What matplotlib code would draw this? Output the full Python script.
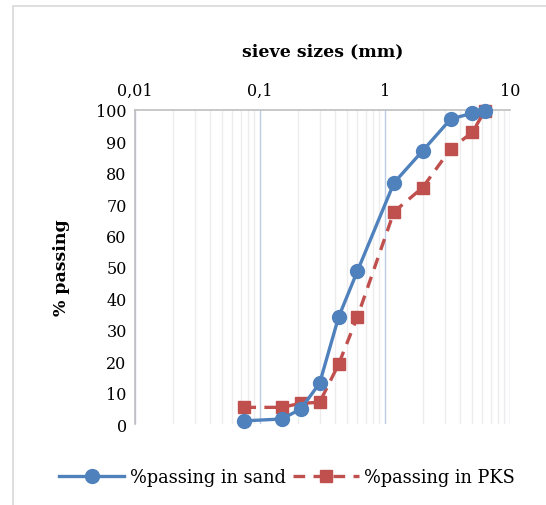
import matplotlib
matplotlib.use("Agg")
import matplotlib.pyplot as plt
from matplotlib.ticker import FixedLocator, FuncFormatter, LogLocator, NullFormatter
from matplotlib.patches import Rectangle

sieve_mm = [0.075, 0.15, 0.212, 0.3, 0.425, 0.6, 1.18, 2.0, 3.35, 5.0, 6.3]
sand = [1.0, 1.6, 4.8, 13.0, 34.0, 48.6, 76.8, 87.0, 97.1, 99.0, 99.8]
pks = [5.3, 5.3, 6.6, 6.9, 19.0, 34.0, 67.6, 75.3, 87.6, 92.9, 99.8]
x_ticks = [0.01, 0.1, 1, 10]
x_tick_labels = ["0,01", "0,1", "1", "10"]
y_ticks = list(range(0, 101, 10))

plt.rcParams['font.family'] = ['DejaVu Serif']

fig = plt.figure(figsize=(5.46, 5.06), dpi=100)
fig.patches.append(Rectangle((13/546, -0.05), 1.2, 1 - 7/506 + 0.05, transform=fig.transFigure,
                             fill=False, edgecolor='#d9d9d9', linewidth=1.2))
ax = fig.add_axes([135/546, 1 - 425/506, 375/546, 314/506])

ax.set_xscale('log')
ax.set_xlim(0.01, 10)
ax.set_ylim(0, 100)

ax.xaxis.set_major_locator(FixedLocator(x_ticks))
ax.xaxis.set_major_formatter(FuncFormatter(lambda v, p: x_tick_labels[x_ticks.index(v)] if v in x_ticks else ""))
ax.xaxis.set_minor_locator(LogLocator(base=10, subs=range(2, 10)))
ax.xaxis.set_minor_formatter(NullFormatter())
ax.set_yticks(y_ticks)

ax.xaxis.tick_top()
ax.xaxis.set_label_position('top')
ax.tick_params(axis='both', which='both', length=0, labelsize=11.5, pad=6)
ax.tick_params(axis='x', pad=8)

ax.grid(True, axis='x', which='major', color='#b9cde5', linewidth=1.0)
ax.grid(True, axis='x', which='minor', color='#ececec', linewidth=1.0)
ax.set_axisbelow(True)

for s in ['right', 'bottom']:
    ax.spines[s].set_visible(False)
for s in ['left', 'top']:
    ax.spines[s].set_color('#bfbfbf')
    ax.spines[s].set_linewidth(1.2)

ax.plot(sieve_mm, sand, color='#4f81bd', linewidth=2.4, marker='o', markersize=10,
        label='%passing in sand', zorder=4, clip_on=False)
ax.plot(sieve_mm, pks, color='#c0504d', linewidth=2.4, linestyle=(0, (3.5, 2.5)), marker='s',
        markersize=8.5, label='%passing in PKS', zorder=3, clip_on=False)

ax.set_xlabel('sieve sizes (mm)', fontsize=12.5, fontweight='bold', labelpad=19)
ax.set_ylabel('% passing', fontsize=12.5, fontweight='bold', labelpad=19)

fig.legend(loc='center', bbox_to_anchor=(0.525, 1 - 478/506), ncol=2, frameon=False,
           fontsize=12.8, handlelength=3.7, columnspacing=0.4, handletextpad=0.3)

fig.savefig('out.png', dpi=100)
